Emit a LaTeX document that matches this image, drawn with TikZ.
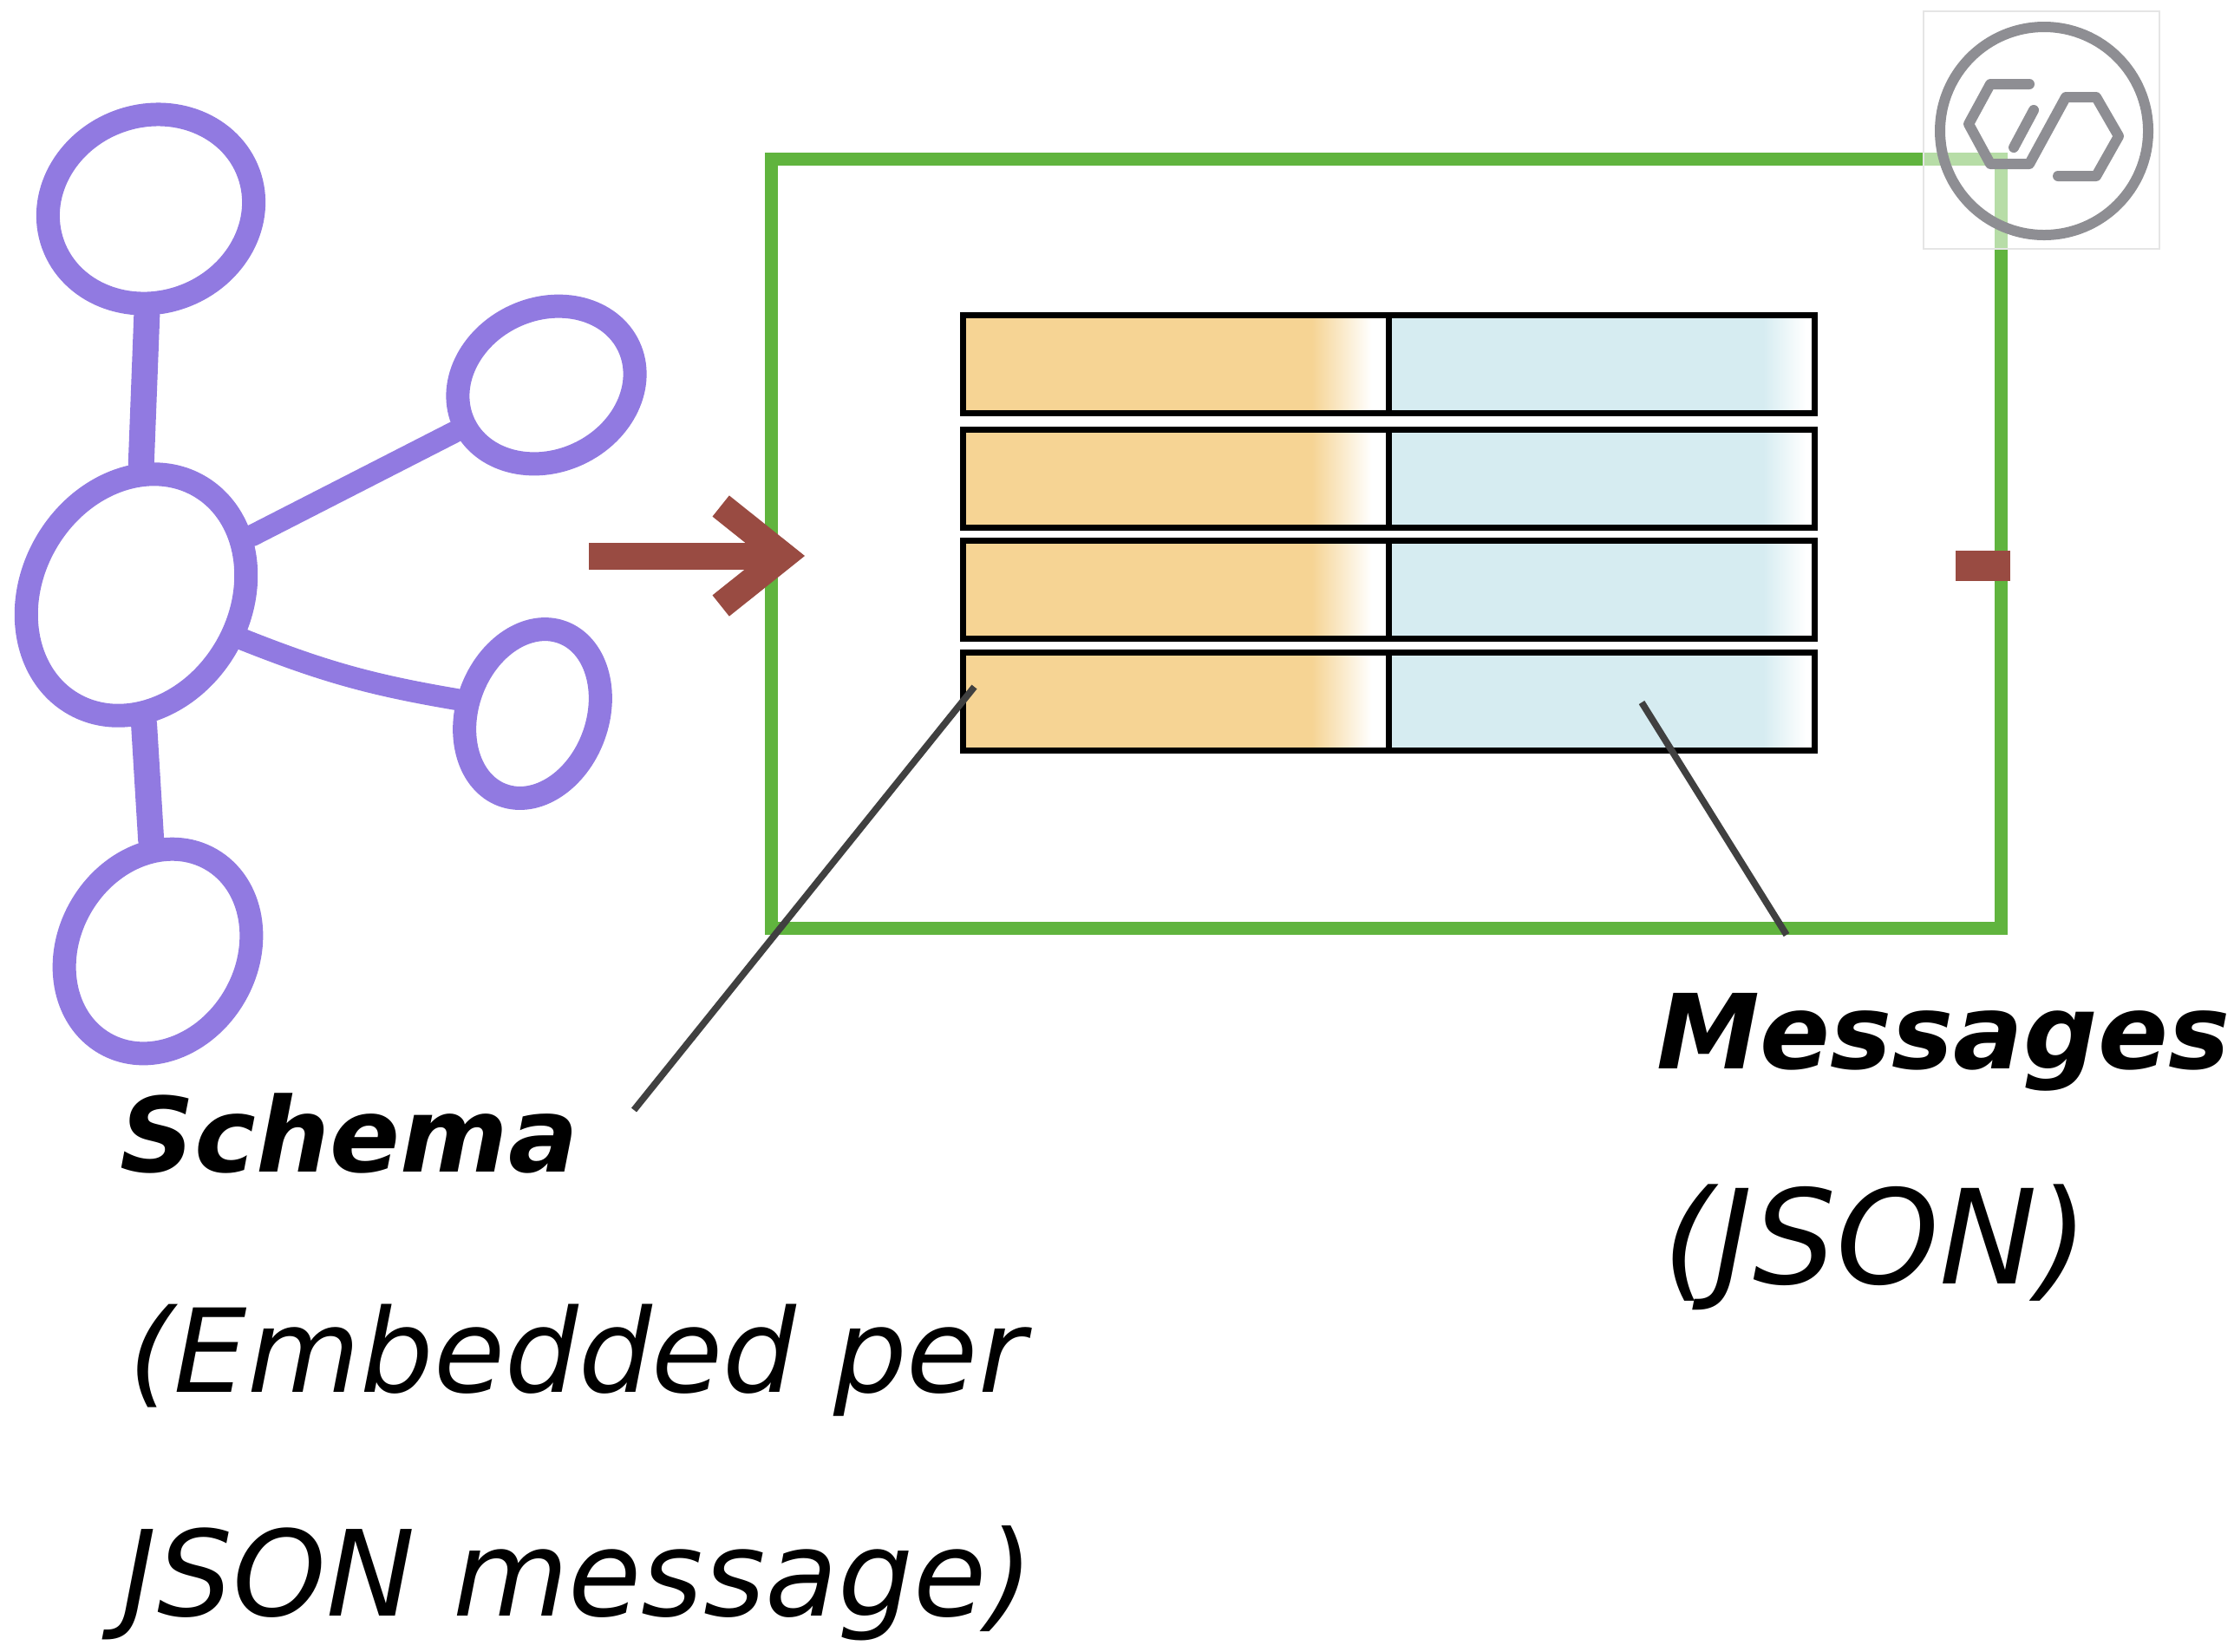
\documentclass[tikz,border=0pt]{standalone}
\usepackage{fontspec}
\setmainfont{DejaVu Sans}
\usetikzlibrary{shapes.geometric, arrows.meta}

\definecolor{graphpurple}{RGB}{145,122,225}
\definecolor{storegreen}{RGB}{96,180,62}
\definecolor{flowbrown}{RGB}{153,75,66}
\definecolor{schemafill}{RGB}{246,212,148}
\definecolor{msgfill}{RGB}{214,236,241}
\definecolor{pointergray}{RGB}{64,64,64}
\definecolor{logogray}{RGB}{142,142,147}

\pgfdeclarehorizontalshading{schemashade}{100bp}{color(0bp)=(schemafill); color(66bp)=(schemafill); color(73bp)=(white); color(100bp)=(white)}
\pgfdeclarehorizontalshading{msgshade}{100bp}{color(0bp)=(msgfill); color(69bp)=(msgfill); color(74bp)=(white); color(100bp)=(white)}

\begin{document}
\begin{tikzpicture}[
  blob/.style={ellipse, draw=graphpurple, line width=0.27cm, inner sep=0pt},
  link/.style={draw=graphpurple, line width=0.25cm, line cap=round},
  cell/.style={rectangle, draw, line width=2pt, minimum width=4.91cm,
               minimum height=1.13cm, inner sep=0pt},
  flow/.style={-{Straight Barb[length=0.72cm, width=1.15cm]}, flowbrown,
               line width=0.31cm},
  pointer/.style={pointergray, line width=2.2pt},
  title/.style={font=\fontsize{34}{40}\selectfont\bfseries\itshape,
                anchor=base west, inner sep=0pt},
  note/.style={font=\fontsize{38}{46}\selectfont\itshape,
               anchor=base west, inner sep=0pt}
]
  \useasboundingbox (0, 0) rectangle (25.76, -19.04);

  % Graph
  \node[blob, minimum width=2.40cm, minimum height=2.15cm, rotate=20] (leaftop) at (1.74, -2.41) {};
  \node[blob, minimum width=2.90cm, minimum height=2.40cm, rotate=60] (hub) at (1.57, -6.86) {};
  \node[blob, minimum width=2.10cm, minimum height=1.75cm, rotate=25] (leafne) at (6.30, -4.44) {};
  \node[blob, minimum width=2.00cm, minimum height=1.50cm, rotate=70] (leafse) at (6.14, -8.23) {};
  \node[blob, minimum width=2.45cm, minimum height=2.05cm, rotate=60] (leafbot) at (1.82, -10.97) {};

  \draw[link, line width=0.3cm] (leaftop) -- (hub);
  \draw[link] (hub) -- (leafne);
  \draw[link] (hub) to[bend right=6] (leafse);
  \draw[link, line width=0.3cm] (hub) -- (leafbot);

  % Store with its rows
  \node[rectangle, draw=storegreen, line width=0.15cm, minimum width=14.18cm,
        minimum height=8.87cm] (store) at (15.98, -6.265) {};

  \node[cell, shade, shading=schemashade] (schema1) at (13.555, -4.20) {};
  \node[cell, shade, shading=schemashade] (schema2) at (13.555, -5.515) {};
  \node[cell, shade, shading=schemashade] (schema3) at (13.555, -6.80) {};
  \node[cell, shade, shading=schemashade] (schema4) at (13.555, -8.09) {};
  \node[cell, shade, shading=msgshade] (msg1) at (18.465, -4.20) {};
  \node[cell, shade, shading=msgshade] (msg2) at (18.465, -5.515) {};
  \node[cell, shade, shading=msgshade] (msg3) at (18.465, -6.80) {};
  \node[cell, shade, shading=msgshade] (msg4) at (18.465, -8.09) {};

  % Flow in and out
  \coordinate (flowstart) at (6.79, -6.41);
  \coordinate (flowtip) at (9.28, -6.41);
  \draw[flow] (flowstart) -- (flowtip);
  \coordinate (stubin) at (22.55, -6.52);
  \coordinate (stubout) at (23.18, -6.52);
  \draw[flowbrown, line width=0.35cm] (stubin) -- (stubout);

  % Logo
  \fill[white, opacity=0.55] (22.18, -0.13) rectangle (24.90, -2.87);
  \draw[gray!20, line width=0.6pt] (22.18, -0.13) rectangle (24.90, -2.87);
  \draw[logogray, line width=0.12cm] (23.57, -1.51) circle (1.20);
  \draw[logogray, line width=0.12cm, line cap=round, line join=round]
    (23.40, -0.97) -- (22.95, -0.97) -- (22.70, -1.43) -- (22.95, -1.89)
    -- (23.40, -1.89) -- (23.82, -1.12) -- (24.17, -1.12) -- (24.43, -1.57)
    -- (24.17, -2.03) -- (23.73, -2.03);
  \draw[logogray, line width=0.12cm, line cap=round] (23.22, -1.70) -- (23.45, -1.27);

  % Labels
  \node[title] (schema) at (1.38, -13.51) {Schema};
  \node[note] (schemanote) at (1.48, -16.05) {(Embedded per};
  \node[note, font=\fontsize{39}{46}\selectfont\itshape] (schemanote2) at (1.40, -18.63) {JSON message)};
  \node[title] (messages) at (19.10, -12.32) {Messages};
  \node[note, font=\fontsize{43}{50}\selectfont\itshape] (msgnote) at (19.17, -14.80) {(JSON)};

  \coordinate (schemaend) at (7.31, -12.80);
  \coordinate (msgend) at (20.60, -10.78);
  \draw[pointer] ([shift={(-2.32cm, 0.17cm)}]schema4.center) -- (schemaend);
  \draw[pointer] ([shift={(0.465cm, -0.01cm)}]msg4.center) -- (msgend);
\end{tikzpicture}
\end{document}
